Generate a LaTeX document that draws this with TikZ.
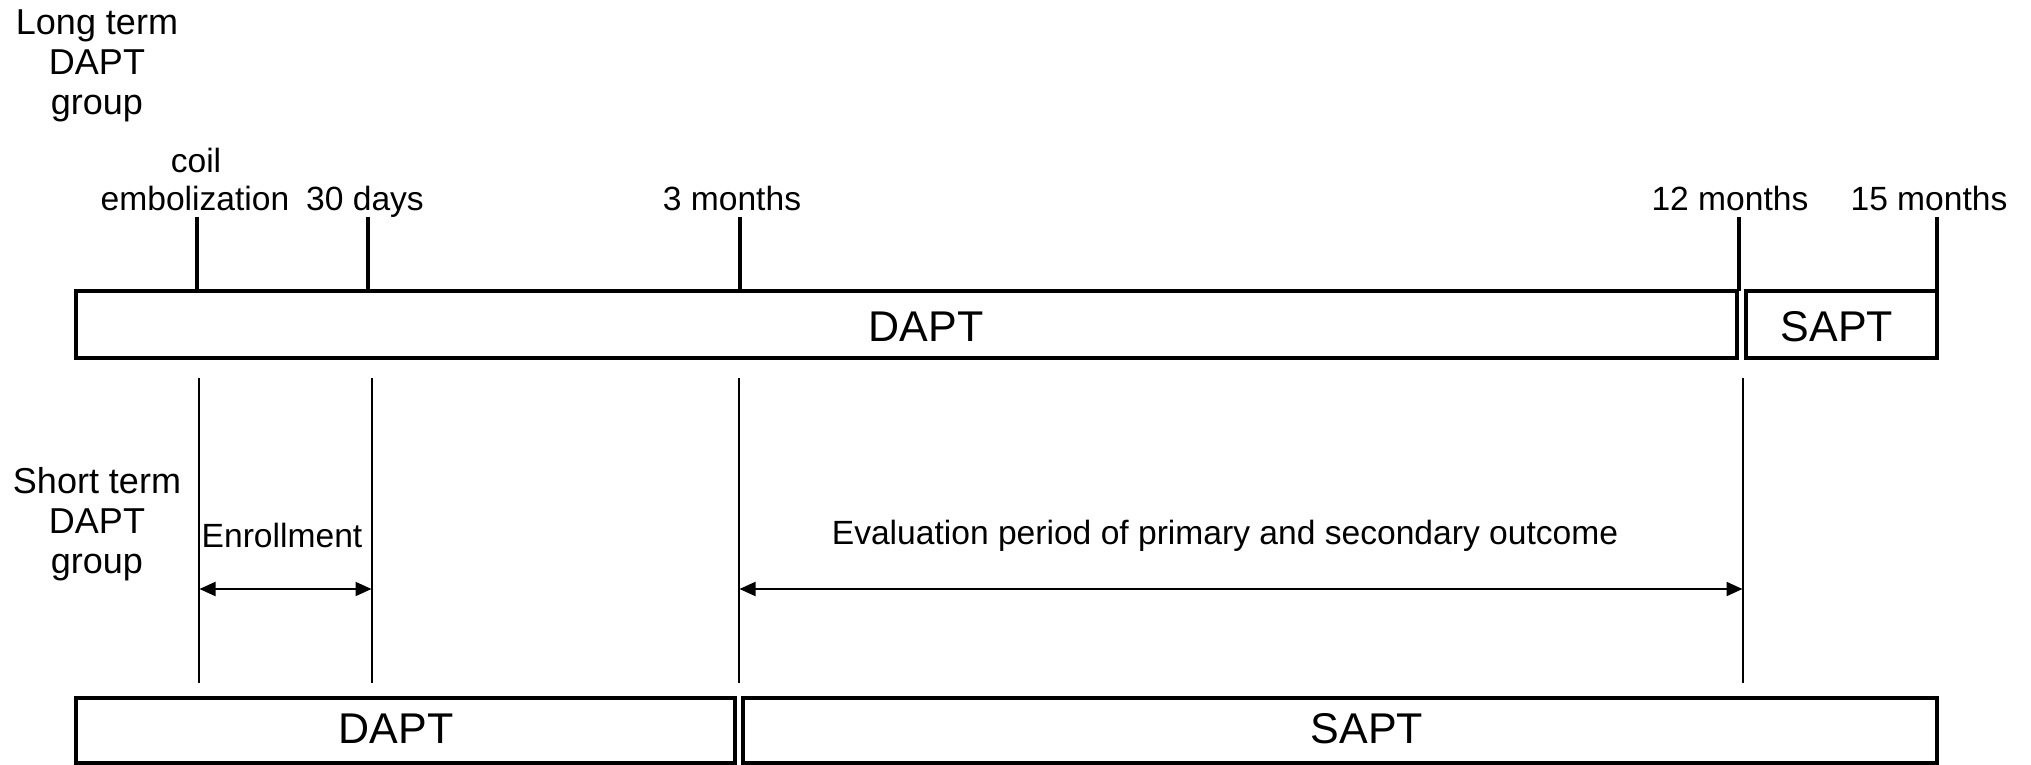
\documentclass[tikz,border=0pt]{standalone}
\usepackage{fontspec}
\setmainfont{Liberation Sans}
\usetikzlibrary{arrows.meta}
\begin{document}
\begin{tikzpicture}[x=0.5pt,y=-0.5pt,
  bar/.style={draw=black,line width=2pt},
  tick/.style={draw=black,line width=2pt},
  guide/.style={draw=black,line width=1pt},
  span/.style={draw=black,line width=1pt,{Triangle[length=8pt,width=7pt]}-{Triangle[length=8pt,width=7pt]}},
  small/.style={font=\fontsize{16.8}{19}\selectfont,inner sep=0pt,anchor=base},
  grp/.style={font=\fontsize{18}{20}\selectfont,inner sep=0pt,anchor=base,align=center},
  big/.style={font=\fontsize{21.5}{24}\selectfont,inner sep=0pt,anchor=base}]
\useasboundingbox (0,0) rectangle (2031,765);
% group labels (anchor = baseline of last line)
\node[grp] (lt) at (97,115) {Long term\\DAPT\\group};
\node[grp] (st) at (97,573) {Short term\\DAPT\\group};
% top boxes
\draw[bar] (76,291) rectangle (1737,358);
\draw[bar] (1746,291) rectangle (1937,358);
\node[big] (tdapt) at (926,341) {DAPT};
\node[big] (tsapt) at (1837,341) {SAPT};
% ticks
\coordinate (t0a) at (197,217); \coordinate (t0b) at (197,291);
\coordinate (t1a) at (368,217); \coordinate (t1b) at (368,291);
\coordinate (t2a) at (740,217); \coordinate (t2b) at (740,291);
\coordinate (t3a) at (1739,217); \coordinate (t3b) at (1739,291);
\coordinate (t4a) at (1937,217); \coordinate (t4b) at (1937,291);
\draw[tick] (t0a) -- (t0b);
\draw[tick] (t1a) -- (t1b);
\draw[tick] (t2a) -- (t2b);
\draw[tick] (t3a) -- (t3b);
\draw[tick] (t4a) -- (t4b);
% tick labels
\node[small] (coil) at (196,173) {coil};
\node[small] (embo) at (195,211) {embolization};
\node[small] (d30) at (365,211) {30 days};
\node[small] (m3) at (732,211) {3 months};
\node[small] (m12) at (1730,211) {12 months};
\node[small] (m15) at (1929,211) {15 months};
% guide lines
\coordinate (g0a) at (199,378); \coordinate (g0b) at (199,683);
\coordinate (g1a) at (372,378); \coordinate (g1b) at (372,683);
\coordinate (g2a) at (739,378); \coordinate (g2b) at (739,683);
\coordinate (g3a) at (1743,378); \coordinate (g3b) at (1743,683);
\draw[guide] (g0a) -- (g0b);
\draw[guide] (g1a) -- (g1b);
\draw[guide] (g2a) -- (g2b);
\draw[guide] (g3a) -- (g3b);
% spans
\coordinate (e0) at (199.5,589); \coordinate (e1) at (371.5,589);
\coordinate (v0) at (739.5,589); \coordinate (v1) at (1742.5,589);
\draw[span] (e0) -- (e1);
\draw[span] (v0) -- (v1);
\node[small] (enr) at (282,547) {Enrollment};
\node[small] (eval) at (1225,544) {Evaluation period of primary and secondary outcome};
% bottom boxes
\draw[bar] (76,698) rectangle (735,763);
\draw[bar] (743,698) rectangle (1937,763);
\node[big] (bdapt) at (396,743) {DAPT};
\node[big] (bsapt) at (1367,743) {SAPT};
\end{tikzpicture}
\end{document}
